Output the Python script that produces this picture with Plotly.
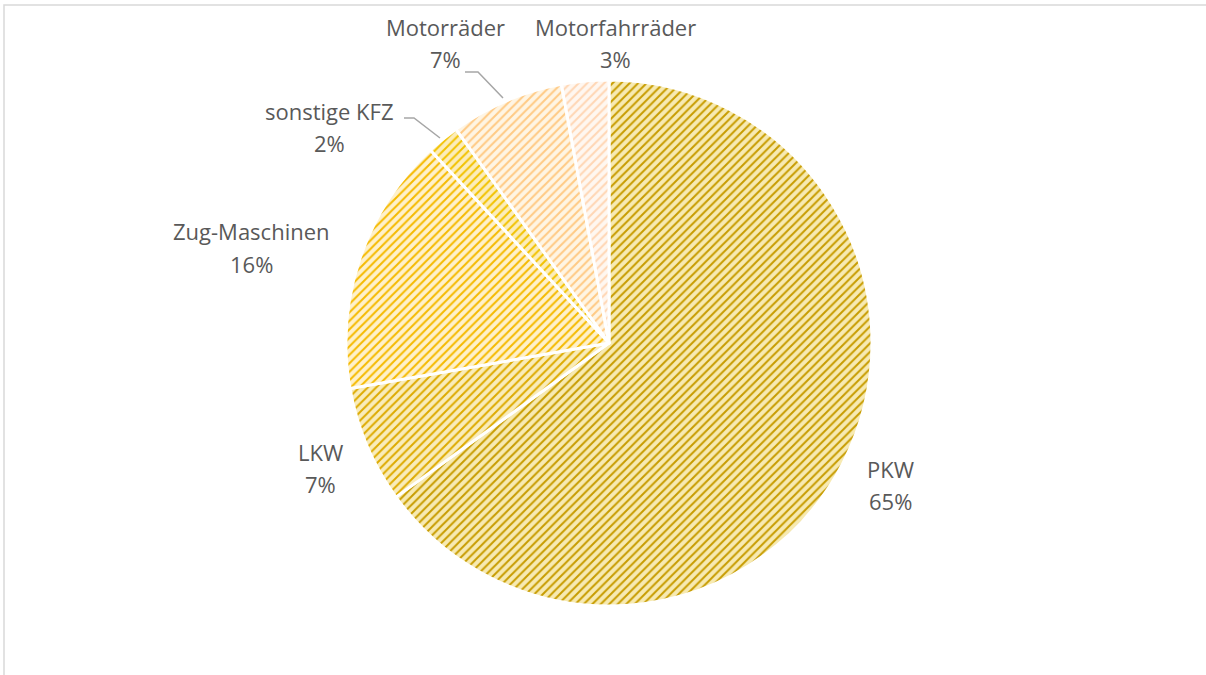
import plotly.graph_objects as go

categories = ["PKW", "LKW", "Zug-Maschinen", "sonstige KFZ", "Motorräder", "Motorfahrräder"]
values = [65.1, 7.2, 15.9, 2.0, 7.0, 2.9]
fg_colors = ["#C79C00", "#DDAA00", "#F5BA00", "#F2C200", "#FFCA84", "#FFD6B4"]
bg_colors = ["#F7EAB2", "#F9ECBA", "#FFF1CA", "#FCEDBA", "#FFF5E3", "#FFF7F0"]

W, H = 1206, 675
cx, cy, r = 609, 343, 263

# label placement (pixel coords from top-left): x, name line y, percent line y
label_pos = {
    "PKW": (890, 469, 501),
    "LKW": (320, 452, 484),
    "Zug-Maschinen": (251, 231, 264),
    "sonstige KFZ": (330, 111, 143),
    "Motorräder": (445, 27, 59),
    "Motorfahrräder": (615, 27, 59),
}
leaders = {
    "Motorräder": [(465, 72), (478, 72), (503, 98)],
    "sonstige KFZ": [(404, 118), (414, 118), (440, 138)],
}

fig = go.Figure(go.Pie(
    labels=categories,
    values=values,
    sort=False,
    direction="clockwise",
    rotation=0,
    textinfo="none",
    marker=dict(
        colors=bg_colors,
        line=dict(color="white", width=3),
        pattern=dict(shape="/", fgcolor=fg_colors, bgcolor=bg_colors, size=6, solidity=0.33),
    ),
    domain=dict(x=[(cx - r) / W, (cx + r) / W], y=[(H - cy - r) / H, (H - cy + r) / H]),
    showlegend=False,
    hoverinfo="label+percent",
))

total = sum(values)
font = dict(family="Open Sans", size=22, color="#595959")
annotations = []
for cat, v in zip(categories, values):
    x, y1, y2 = label_pos[cat]
    for txt, yy in ((cat, y1), (f"{round(v / total * 100)}%", y2)):
        annotations.append(dict(
            x=x / W, y=1 - yy / H, xref="paper", yref="paper",
            text=txt, showarrow=False, xanchor="center", yanchor="middle", font=font,
        ))

shapes = [dict(type="rect", xref="paper", yref="paper",
               x0=4 / W, x1=1.02, y0=-0.02, y1=(H - 5) / H,
               line=dict(color="#D9D9D9", width=1.5))]
for cat, pts in leaders.items():
    path = "M " + " L ".join(f"{px / W},{1 - py / H}" for px, py in pts)
    shapes.append(dict(type="path", xref="paper", yref="paper", path=path,
                       line=dict(color="#A6A6A6", width=1.5)))

fig.update_layout(
    width=W, height=H,
    margin=dict(l=0, r=0, t=0, b=0),
    paper_bgcolor="white",
    plot_bgcolor="white",
    annotations=annotations,
    shapes=shapes,
)

fig.write_html("out.html", config={"displayModeBar": False},
               post_script="document.body.style.margin='0px';")
